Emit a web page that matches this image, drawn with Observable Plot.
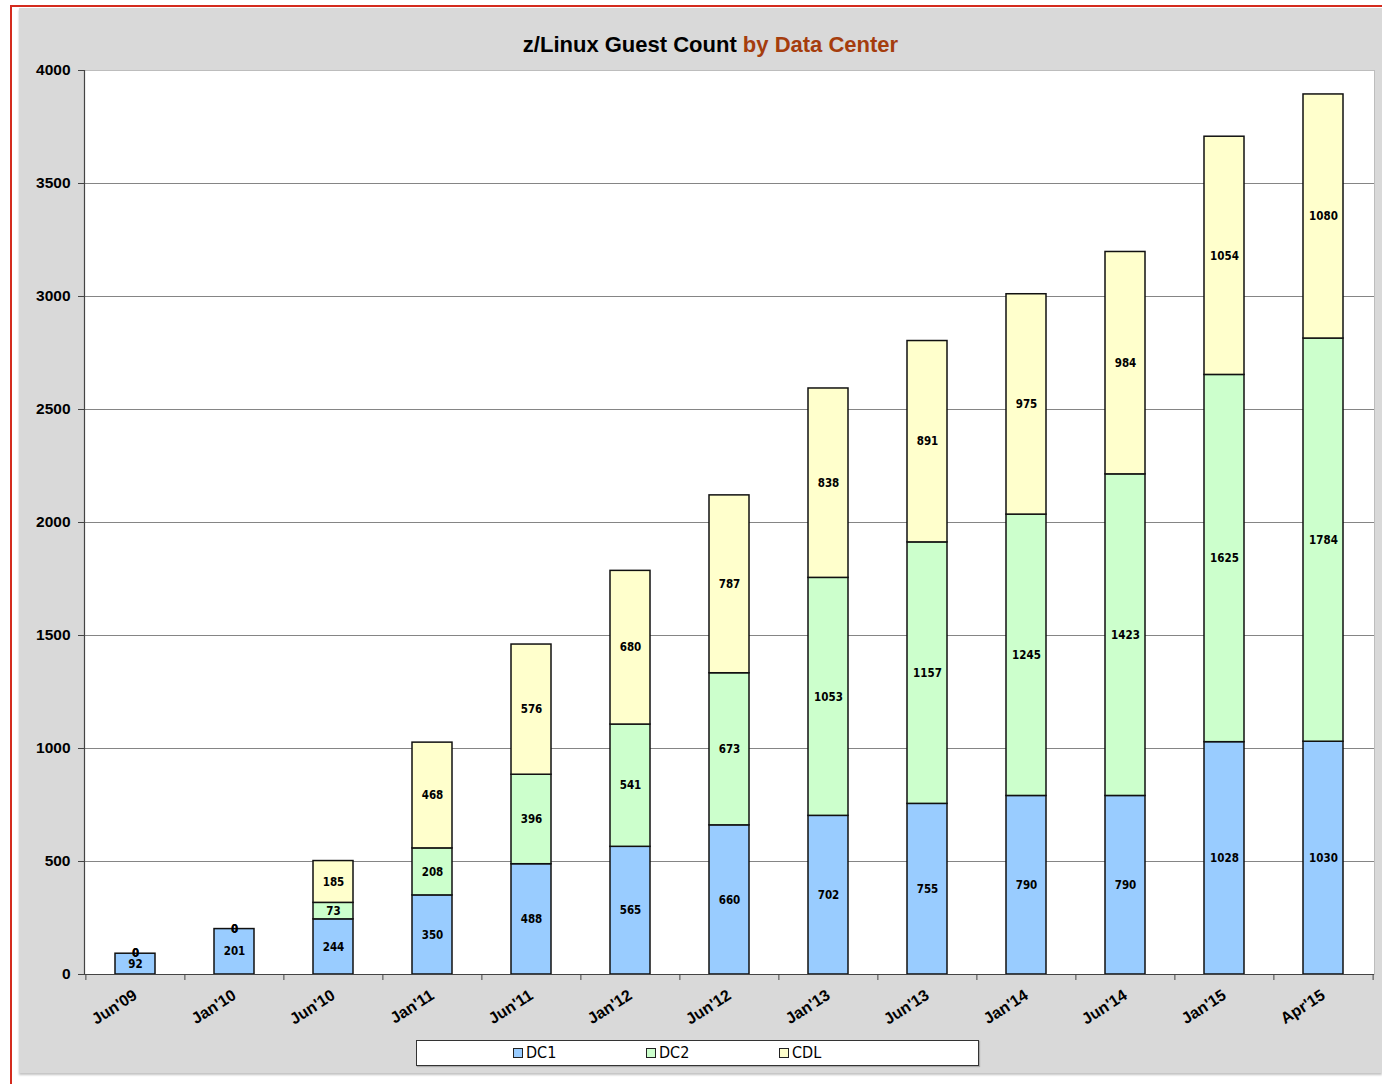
<!DOCTYPE html>
<html><head><meta charset="utf-8">
<script src="https://cdn.jsdelivr.net/npm/d3@7"></script>
<script src="https://cdn.jsdelivr.net/npm/@observablehq/plot@0.6"></script>
<style>
html,body{margin:0;padding:0;background:#fff;}
#page{position:relative;width:1382px;height:1084px;overflow:hidden;}
#redl{position:absolute;left:10px;top:5px;width:2px;height:1079px;background:#d42b1e;}
#redt{position:absolute;left:10px;top:5px;width:1372px;height:2px;background:#d42b1e;}
#panel{position:absolute;left:19px;top:8px;width:1363px;height:1065px;background:#d9d9d9;box-shadow:0 2px 2px #c4c4c4;}
#title{position:absolute;left:0;top:24px;width:1363px;box-sizing:border-box;padding-left:20px;text-align:center;
  font:bold 22px "Liberation Sans",Arial,sans-serif;line-height:26px;color:#000;}
#title .b{color:#a53d0d;}
#chart{position:absolute;left:0;top:54px;}
#legend{position:absolute;left:397px;top:1032px;width:561px;height:24px;background:#fff;border:1px solid #333;box-shadow:1px 1px 1px #aaa;
  font:16px "DejaVu Sans Condensed","DejaVu Sans",sans-serif;}
#legend .it{position:absolute;top:2px;line-height:20px;}
#legend .sw{display:inline-block;width:8px;height:8px;border:1.5px solid #222;margin-right:3px;vertical-align:0px;}
svg g[aria-label="text"] text{font-family:"DejaVu Sans Condensed","DejaVu Sans",sans-serif;}
</style></head>
<body>
<div id="page">
  <div id="redl"></div><div id="redt"></div>
  <div id="panel">
    <div id="title">z/Linux Guest Count <span class="b">by Data Center</span></div>
    <div id="chart"></div>
    <div id="legend"></div>
  </div>
</div>
<script>
const dates = ["Jun'09","Jan'10","Jun'10","Jan'11","Jun'11","Jan'12","Jun'12","Jan'13","Jun'13","Jan'14","Jun'14","Jan'15","Apr'15"];
const dc1 = [92, 201, 244, 350, 488, 565, 660, 702, 755, 790, 790, 1028, 1030];
const dc2 = [0, 0, 73, 208, 396, 541, 673, 1053, 1157, 1245, 1423, 1625, 1784];
const cdl = [0, 0, 185, 468, 576, 680, 787, 838, 891, 975, 984, 1054, 1080];
const seriesNames = ["DC1", "DC2", "CDL"];
const seriesColors = ["#99ccff", "#ccffcc", "#ffffcc"];
const yTicks = [0, 500, 1000, 1500, 2000, 2500, 3000, 3500, 4000];
const gridTicks = [500, 1000, 1500, 2000, 2500, 3000, 3500];

const seriesValues = [dc1, dc2, cdl];
const rows = dates.flatMap((d, i) => seriesNames.map((s, k) => ({date: d, series: s, value: seriesValues[k][i]})));

const W = 1363, H = 973, mL = 65, mR = 8, mT = 8, mB = 61;
const step = (W - mL - mR) / dates.length;

const chart = Plot.plot({
  width: W, height: H, marginLeft: mL, marginRight: mR, marginTop: mT, marginBottom: mB,
  style: {background: "transparent", fontFamily: "'Liberation Sans', Arial, sans-serif", overflow: "visible"},
  x: {domain: dates, paddingInner: 0.6, paddingOuter: 0.3, label: null},
  y: {domain: [0, 4000], label: null},
  color: {domain: seriesNames, range: seriesColors},
  marks: [
    Plot.frame({fill: "white", stroke: "#bdbdbd"}),
    Plot.ruleY(gridTicks, {stroke: "#858585", strokeWidth: 1}),
    Plot.barY(rows, {x: "date", y: "value", z: "series", fill: "series", stroke: "#111", strokeWidth: 1.5}),
    Plot.text(rows, Plot.stackY({x: "date", y: "value", z: "series", text: d => String(d.value),
      fontSize: 11.5, fontWeight: "bold", fill: "#000"})),
    Plot.ruleY([0], {stroke: "#444", strokeWidth: 1.2}),
    Plot.frame({anchor: "left", stroke: "#444", strokeWidth: 1.2}),
    Plot.axisY({ticks: yTicks, tickFormat: d3.format("d"), tickSize: 6, tickPadding: 8, fontSize: 15.5, fontWeight: "bold", label: null, stroke: "#444"}),
    Plot.axisX({tickSize: 0, tickRotate: -33, tickPadding: 19, fontSize: 16, fontWeight: "bold", label: null}),
    Plot.ruleX(dates, {x: d => d, dx: -step / 2, insetTop: H - mT - mB, insetBottom: -6, stroke: "#444"}),
    Plot.ruleX([dates[dates.length - 1]], {x: d => d, dx: step / 2, insetTop: H - mT - mB, insetBottom: -6, stroke: "#444"})
  ]
});
document.getElementById("chart").appendChild(chart);

const legend = document.getElementById("legend");
const legendX = [96, 229, 362];
seriesNames.forEach((s, k) => {
  const it = document.createElement("div");
  it.className = "it";
  it.style.left = legendX[k] + "px";
  it.innerHTML = `<span class="sw" style="background:${seriesColors[k]}"></span>${s}`;
  legend.appendChild(it);
});
</script>
</body></html>
